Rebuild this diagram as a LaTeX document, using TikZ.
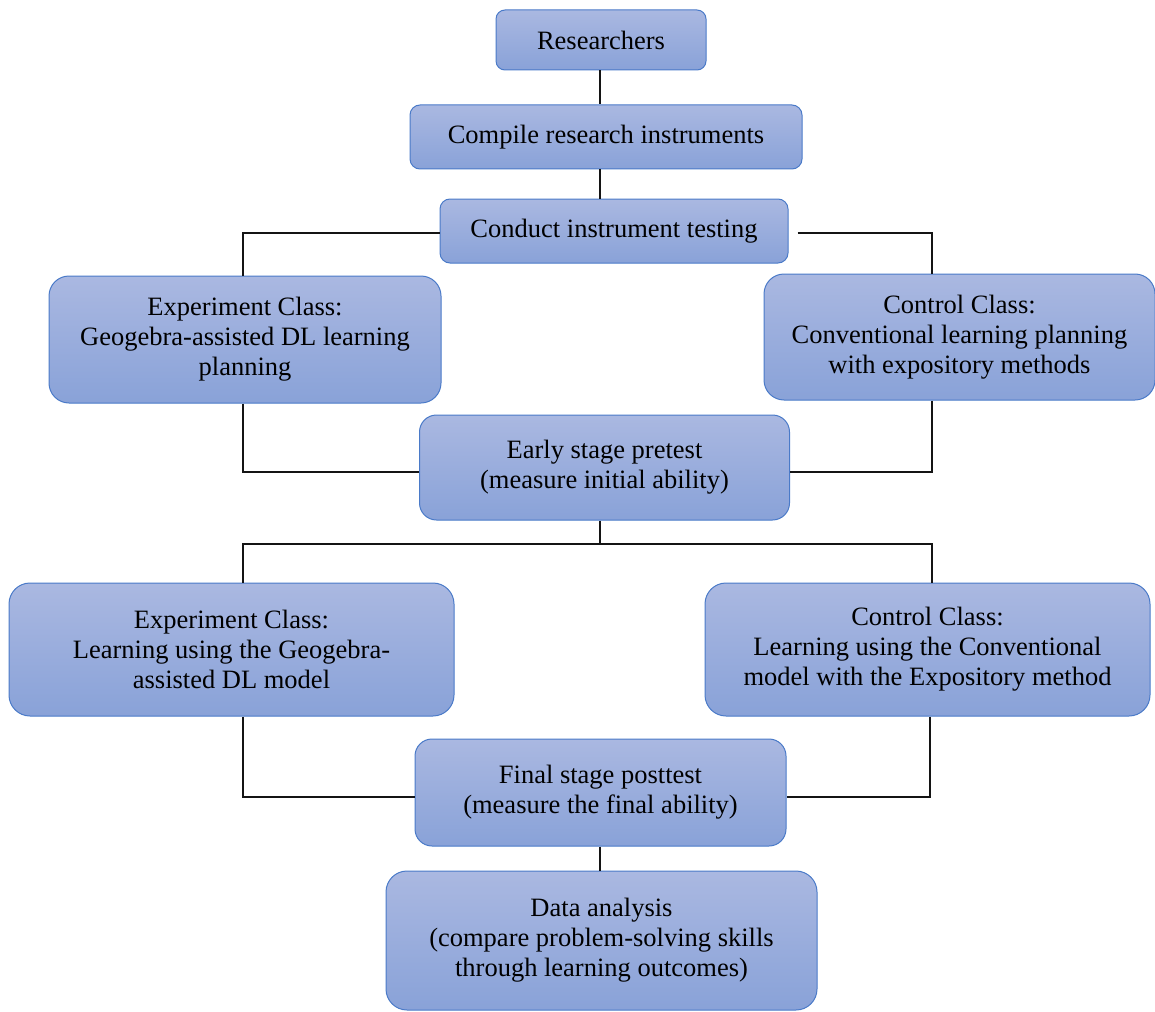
\documentclass[tikz,border=0pt]{standalone}
\usepackage{fontspec}
\setmainfont{Liberation Serif}
\definecolor{boxtop}{RGB}{170,184,225}
\definecolor{boxbot}{RGB}{137,162,216}
\definecolor{boxedge}{RGB}{74,122,200}
\definecolor{conn}{RGB}{20,20,20}
\begin{document}
\begin{tikzpicture}[x=1pt,y=-1pt,
  flowbox/.style={draw=boxedge, line width=1pt, top color=boxtop, bottom color=boxbot,
    inner sep=0pt, align=center, font=\fontsize{26.5}{30}\selectfont},
  conline/.style={draw=conn, line width=1.1pt}]
\useasboundingbox (0,0) rectangle (1155,1011);
\node[flowbox, minimum width=210pt, minimum height=60pt, rounded corners=9pt] (b1) at (601,40) {Researchers};
\node[flowbox, minimum width=392pt, minimum height=64pt, rounded corners=10pt] (b2) at (606,137) {Compile research instruments};
\node[flowbox, minimum width=348pt, minimum height=64pt, rounded corners=10pt] (b3) at (614,231) {Conduct instrument testing};
\node[flowbox, minimum width=392pt, minimum height=127pt, rounded corners=20pt] (b4) at (245,339.5) {Experiment Class:\\Geogebra-assisted DL learning\\planning};
\node[flowbox, minimum width=391pt, minimum height=126pt, rounded corners=20pt] (b5) at (959.5,337) {Control Class:\\Conventional learning planning\\with expository methods};
\node[flowbox, minimum width=370pt, minimum height=105pt, rounded corners=17pt] (b6) at (604.5,467.5) {Early stage pretest\\(measure initial ability)};
\node[flowbox, minimum width=445pt, minimum height=133pt, rounded corners=21pt] (b7) at (231.5,649.5) {Experiment Class:\\Learning using the Geogebra-\\assisted DL model};
\node[flowbox, minimum width=445pt, minimum height=133pt, rounded corners=21pt] (b8) at (927.5,649.5) {Control Class:\\Learning using the Conventional\\model with the Expository method};
\node[flowbox, minimum width=371pt, minimum height=107pt, rounded corners=17pt] (b9) at (600.5,792.5) {Final stage posttest\\(measure the final ability)};
\node[flowbox, minimum width=431pt, minimum height=139pt, rounded corners=21pt] (b10) at (601.5,940.5) {Data analysis\\(compare problem-solving skills\\through learning outcomes)};

\coordinate (split) at (600,544);
\draw[conline] ([xshift=-1pt]b1.south) -- ([xshift=-1pt]b1.south |- b2.north);
\draw[conline] ([xshift=-6pt]b2.south) -- ([xshift=-6pt]b2.south |- b3.north);
\draw[conline] ([yshift=-2pt]b3.west) -| ([xshift=-2pt]b4.north);
\draw[conline] ([xshift=9pt,yshift=-2pt]b3.east) -| ([xshift=-27.5pt]b5.north);
\draw[conline] ([xshift=-2pt]b4.south) |- ([yshift=-4.5pt]b6.west);
\draw[conline] ([xshift=-27.5pt]b5.south) |- ([yshift=-4.5pt]b6.east);
\draw[conline] ([xshift=-4.5pt]b6.south) -- (split);
\draw[conline] (split) -| ([xshift=11.5pt]b7.north);
\draw[conline] (split) -| ([xshift=4.5pt]b8.north);
\draw[conline] ([xshift=11.5pt]b7.south) |- ([yshift=-4.5pt]b9.west);
\draw[conline] ([xshift=2.5pt]b8.south) |- ([yshift=-4.5pt]b9.east);
\draw[conline] ([xshift=-0.5pt]b9.south) -- ([xshift=-0.5pt]b9.south |- b10.north);
\end{tikzpicture}
\end{document}
